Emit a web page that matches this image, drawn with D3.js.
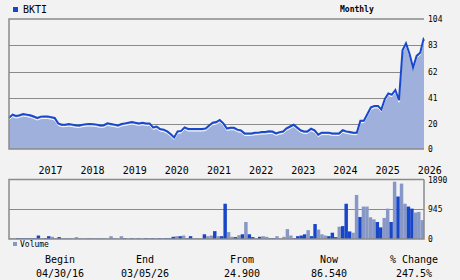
<!DOCTYPE html>
<html>
<head>
<meta charset="utf-8">
<script src="https://cdn.jsdelivr.net/npm/d3@7/dist/d3.min.js"></script>
<style>
  body { margin: 0; background: #f2f2f2; }
  svg { display: block; }
  text { font-family: "DejaVu Sans Mono", monospace; fill: #000; }
</style>
</head>
<body>
<svg width="460" height="280"></svg>
<script>

var symbol = "BKTI";
var firstDate = "2016-04-30";
var lastDate = "2026-03-05";

// monthly closes, Apr 2016 .. Mar 2026
var closes = [
  24.9, 27.5, 26.4, 27, 28, 27.5, 27, 26, 24.8, 25.9,
  26, 26, 25.5, 24.8, 20.5, 19.5, 19.5, 20, 19.5, 19,
  18.9, 19.5, 19.9, 20, 19.9, 19.5, 18.9, 19, 20.5, 20,
  19.5, 18.9, 20, 20.5, 21, 21.6, 21, 20.5, 21, 20.5,
  20.5, 17.3, 18, 16, 15.5, 14.1, 12, 9.3, 14.1, 14.5,
  17.3, 16, 16, 16, 16, 16, 16.5, 19, 21, 21.6,
  23.2, 20.5, 16.5, 17, 17, 15.5, 14.9, 12.5, 12.5, 12.5,
  13, 13.1, 13.6, 13.6, 14.1, 14, 12.5, 13.5, 14, 16.5,
  18, 19.5, 17.3, 15, 14.1, 14.1, 16.3, 14.9, 11.5, 13.1,
  13.1, 13.1, 12.5, 12.5, 12.5, 15, 14.1, 13.6, 13.1, 13.1,
  22.7, 22.7, 28, 33.3, 34.5, 34.5, 31.5, 40, 44.5, 43.5,
  47.2, 39, 79, 84.5, 76, 65, 74.5, 77, 87.5, 86.54
];

// monthly volume (thousands)
var volumes = [
  25, 20, 30, 25, 25, 25, 25, 25, 110, 25,
  25, 90, 70, 15, 60, 25, 15, 15, 20, 60,
  15, 15, 15, 20, 25, 15, 25, 15, 15, 90,
  15, 15, 90, 25, 15, 25, 15, 25, 15, 25,
  15, 25, 25, 25, 15, 25, 25, 70, 90, 90,
  110, 25, 90, 25, 25, 25, 150, 90, 110, 250,
  90, 90, 1120, 220, 70, 60, 120, 150, 540, 150,
  60, 30, 70, 90, 70, 25, 25, 90, 25, 70,
  315, 110, 25, 90, 110, 150, 280, 90, 475, 300,
  150, 110, 90, 200, 60, 390, 410, 1120, 240, 200,
  1400, 700, 1030, 1030, 690, 625, 540, 370, 670, 965,
  540, 1820, 1350, 1760, 1120, 1030, 965, 840, 860, 600
];

// 1 = dark bar, 0 = light bar
var volumeUp = [
  0, 0, 1, 1, 1, 1, 1, 1, 1, 0,
  1, 1, 0, 1, 1, 0, 1, 1, 0, 0,
  1, 0, 1, 1, 0, 1, 0, 1, 0, 0,
  1, 0, 0, 1, 0, 1, 0, 1, 0, 1,
  1, 1, 0, 1, 1, 1, 1, 1, 0, 1,
  0, 1, 1, 0, 0, 0, 1, 0, 0, 1,
  0, 1, 1, 0, 0, 1, 0, 1, 0, 1,
  1, 0, 1, 0, 0, 1, 1, 0, 0, 0,
  0, 0, 1, 1, 1, 1, 0, 1, 1, 0,
  0, 0, 1, 1, 1, 0, 1, 1, 1, 0,
  0, 1, 0, 0, 0, 0, 1, 1, 0, 0,
  1, 0, 1, 0, 0, 1, 1, 0, 0, 0
];

var priceTicks = [0, 20, 41, 62, 83, 104];
var volumeTicks = [0, 945, 1890];
var yearLabels = ["2017", "2018", "2019", "2020", "2021", "2022", "2023", "2024", "2025", "2026"];

var statNames = ["Begin", "End", "From", "Now", "% Change"];
var statValues = ["04/30/16", "03/05/26", "24.900", "86.540", "247.5%"];
var statPos = [60, 145, 242, 329, 414];

var svg = d3.select("svg");
var left = 9, right = 424;
var parse = d3.timeParse("%Y-%m-%d");

// month-end dates for each close
var dates = closes.map(function(d, i) {
  if (i == closes.length - 1) return parse(lastDate);
  return d3.timeDay.offset(d3.timeMonth.offset(d3.timeMonth.floor(parse(firstDate)), i + 1), -1);
});

var x = d3.scaleTime()
  .domain([parse(firstDate), parse(lastDate)])
  .range([left, right]);

var y = d3.scaleLinear().domain([0, 104]).range([149, 19]);
var yv = d3.scaleLinear().domain([0, 1890]).range([239, 179.5]);

var xb = d3.scaleBand()
  .domain(d3.range(volumes.length))
  .range([left, right])
  .padding(0);

// price panel grid
svg.append("g")
  .selectAll("line")
  .data(priceTicks.slice(1, -1))
  .enter().append("line")
  .attr("x1", left).attr("x2", right)
  .attr("y1", function(d) { return Math.round(y(d)) + 0.5; })
  .attr("y2", function(d) { return Math.round(y(d)) + 0.5; })
  .attr("stroke", "#8a8a8a");

var pts = closes.map(function(d, i) { return [dates[i], d]; });

svg.append("path")
  .datum(pts)
  .attr("fill", "#9fb0dd")
  .attr("d", d3.area()
    .x(function(d) { return x(d[0]); })
    .y0(y(0))
    .y1(function(d) { return y(d[1]); }));

svg.append("path")
  .datum(pts)
  .attr("fill", "none")
  .attr("stroke", "#ffffff")
  .attr("stroke-width", 1)
  .attr("transform", "translate(0,2)")
  .attr("d", d3.line()
    .x(function(d) { return x(d[0]); })
    .y(function(d) { return y(d[1]); }));

svg.append("path")
  .datum(pts)
  .attr("fill", "none")
  .attr("stroke", "#1848cc")
  .attr("stroke-width", 2)
  .attr("d", d3.line()
    .x(function(d) { return x(d[0]); })
    .y(function(d) { return y(d[1]); }));

// price frame
svg.append("path")
  .attr("fill", "none")
  .attr("stroke", "#8a8a8a")
  .attr("stroke-width", 1.5)
  .attr("d", "M" + right + "," + y(104) + "H" + left + "V" + y(0) + "H" + right);

svg.append("g")
  .selectAll("text")
  .data(priceTicks)
  .enter().append("text")
  .attr("x", 428)
  .attr("y", function(d) { return y(d) + 3; })
  .style("font-size", "8px")
  .text(function(d) { return d; });

svg.append("g")
  .selectAll("text")
  .data(yearLabels)
  .enter().append("text")
  .attr("x", function(d) { return x(parse(d + "-01-01")) + 1; })
  .attr("y", 174)
  .style("font-size", "10px")
  .text(function(d) { return d; });

// volume panel
svg.append("line")
  .attr("x1", left).attr("x2", right)
  .attr("y1", Math.round(yv(945)) + 0.5).attr("y2", Math.round(yv(945)) + 0.5)
  .attr("stroke", "#8a8a8a");

svg.append("g")
  .selectAll("rect")
  .data(volumes)
  .enter().append("rect")
  .attr("x", function(d, i) { return xb(i); })
  .attr("width", xb.bandwidth())
  .attr("y", function(d) { return yv(d); })
  .attr("height", function(d) { return yv(0) - yv(d); })
  .attr("fill", function(d, i) { return volumeUp[i] ? "#1747c8" : "#8898c6"; });

svg.append("path")
  .attr("fill", "none")
  .attr("stroke", "#8a8a8a")
  .attr("stroke-width", 1.5)
  .attr("d", "M" + right + "," + yv(1890) + "H" + left + "V" + yv(0) + "H" + right + "V" + yv(1890));

svg.append("g")
  .selectAll("text")
  .data(volumeTicks)
  .enter().append("text")
  .attr("x", 428)
  .attr("y", function(d) { return yv(d) + 3; })
  .style("font-size", "8px")
  .text(function(d) { return d; });

// legend bits
svg.append("rect").attr("x", 13).attr("y", 7).attr("width", 5).attr("height", 5).attr("fill", "#1747c8");
svg.append("text").attr("x", 23).attr("y", 13).style("font-size", "10px").text(symbol);
svg.append("text").attr("x", 340).attr("y", 12).style("font-size", "8px").style("font-weight", "bold").text("Monthly");
svg.append("rect").attr("x", 13).attr("y", 242).attr("width", 4).attr("height", 4).attr("fill", "#8898c6");
svg.append("text").attr("x", 20).attr("y", 247).style("font-size", "8px").text("Volume");

// stats row
var stats = svg.append("g")
  .selectAll("g")
  .data(statNames)
  .enter().append("g")
  .attr("transform", function(d, i) { return "translate(" + statPos[i] + ",0)"; });

stats.append("text")
  .attr("y", 263)
  .attr("text-anchor", "middle")
  .style("font-size", "10px")
  .text(function(d) { return d; });

stats.append("text")
  .attr("y", 277)
  .attr("text-anchor", "middle")
  .style("font-size", "10px")
  .text(function(d, i) { return statValues[i]; });

</script>
</body>
</html>
